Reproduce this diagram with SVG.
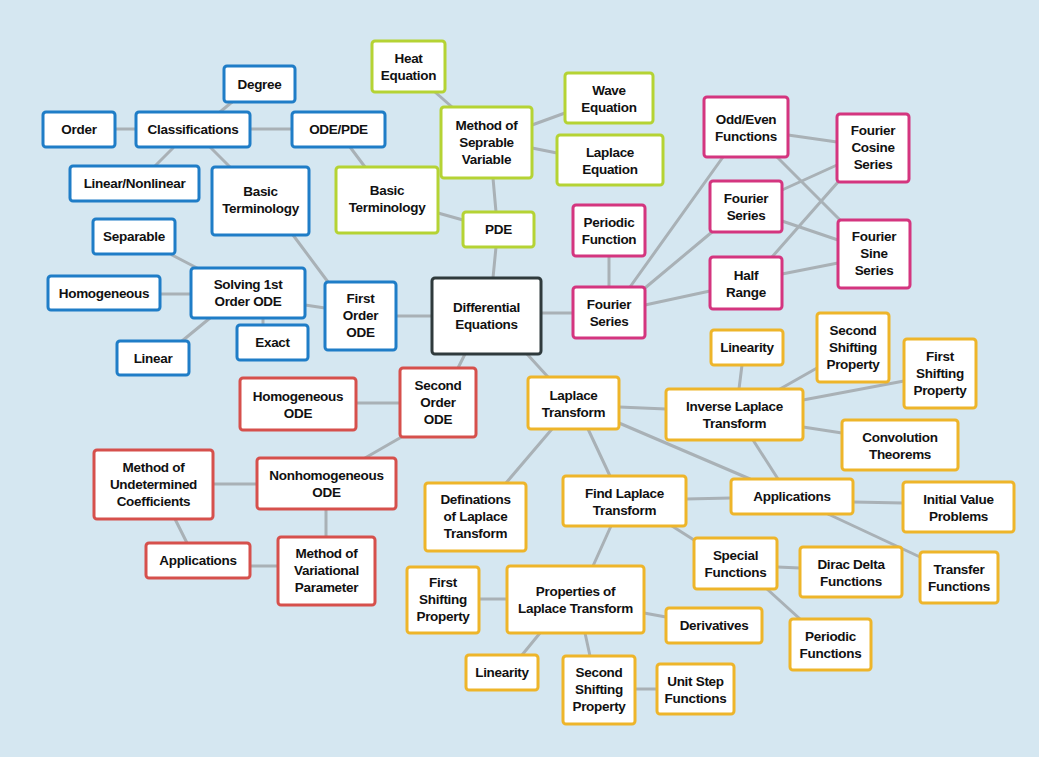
<svg xmlns="http://www.w3.org/2000/svg" width="1039" height="757" viewBox="0 0 1039 757">
<style>
.bg{fill:#d5e7f1}
.n rect{fill:#ffffff;stroke-width:3}
.b rect{stroke:#1f7dc7}
.g rect{stroke:#b5d334}
.p rect{stroke:#d4357f}
.r rect{stroke:#d6504c}
.o rect{stroke:#eeb52a}
.k rect{stroke:#2f3a3c}
.n text{font-family:"Liberation Sans",Arial,sans-serif;font-weight:bold;font-size:13.5px;fill:#111111;text-anchor:middle;letter-spacing:-0.3px}
#edges line{stroke:#a9b1b6;stroke-width:3;stroke-linecap:round}
</style>
<rect class="bg" x="0" y="0" width="1039" height="757"/>
<g id="edges">
<line x1="115" y1="129" x2="136" y2="129"/>
<line x1="220" y1="112" x2="232" y2="102"/>
<line x1="250" y1="129" x2="292" y2="129"/>
<line x1="173" y1="148" x2="155" y2="166"/>
<line x1="210" y1="147" x2="230" y2="167"/>
<line x1="293" y1="235" x2="328" y2="282"/>
<line x1="350" y1="147" x2="365" y2="167"/>
<line x1="438" y1="213" x2="463" y2="220"/>
<line x1="435" y1="92" x2="452" y2="107"/>
<line x1="532" y1="125" x2="565" y2="113"/>
<line x1="532" y1="148" x2="557" y2="153"/>
<line x1="493" y1="178" x2="496" y2="212"/>
<line x1="496" y1="247" x2="493" y2="278"/>
<line x1="172" y1="255" x2="197" y2="268"/>
<line x1="160" y1="294" x2="191" y2="294"/>
<line x1="182" y1="341" x2="210" y2="318"/>
<line x1="263" y1="318" x2="263" y2="325"/>
<line x1="305" y1="305" x2="325" y2="308"/>
<line x1="396" y1="316" x2="432" y2="316"/>
<line x1="541" y1="313" x2="573" y2="313"/>
<line x1="609" y1="256" x2="609" y2="287"/>
<line x1="630" y1="287" x2="723" y2="157"/>
<line x1="645" y1="288" x2="712" y2="232"/>
<line x1="645" y1="305" x2="710" y2="291"/>
<line x1="788" y1="135" x2="837" y2="142"/>
<line x1="777" y1="157" x2="840" y2="220"/>
<line x1="782" y1="190" x2="837" y2="165"/>
<line x1="782" y1="221" x2="838" y2="240"/>
<line x1="772" y1="257" x2="838" y2="182"/>
<line x1="782" y1="274" x2="838" y2="263"/>
<line x1="465" y1="354" x2="458" y2="368"/>
<line x1="527" y1="354" x2="548" y2="377"/>
<line x1="356" y1="403" x2="400" y2="403"/>
<line x1="405" y1="435" x2="365" y2="458"/>
<line x1="213" y1="484" x2="257" y2="484"/>
<line x1="326" y1="509" x2="326" y2="537"/>
<line x1="175" y1="519" x2="187" y2="543"/>
<line x1="250" y1="566" x2="278" y2="566"/>
<line x1="619" y1="407" x2="666" y2="409"/>
<line x1="619" y1="423" x2="750" y2="479"/>
<line x1="742" y1="365" x2="739" y2="389"/>
<line x1="780" y1="389" x2="817" y2="368"/>
<line x1="803" y1="400" x2="904" y2="381"/>
<line x1="803" y1="427" x2="842" y2="433"/>
<line x1="753" y1="440" x2="778" y2="479"/>
<line x1="552" y1="429" x2="506" y2="483"/>
<line x1="588" y1="429" x2="610" y2="476"/>
<line x1="686" y1="499" x2="731" y2="498"/>
<line x1="853" y1="502" x2="903" y2="503"/>
<line x1="828" y1="514" x2="920" y2="557"/>
<line x1="672" y1="526" x2="694" y2="540"/>
<line x1="611" y1="526" x2="593" y2="566"/>
<line x1="777" y1="567" x2="800" y2="568"/>
<line x1="767" y1="589" x2="800" y2="619"/>
<line x1="479" y1="599" x2="507" y2="599"/>
<line x1="644" y1="613" x2="666" y2="617"/>
<line x1="540" y1="633" x2="522" y2="655"/>
<line x1="585" y1="633" x2="590" y2="656"/>
<line x1="635" y1="689" x2="657" y2="689"/>
</g>

<g id="degree" class="n b"><rect x="224" y="66" width="71" height="36" rx="3"/><text x="259.5" y="88.5">Degree</text></g>
<g id="order" class="n b"><rect x="43" y="112" width="72" height="35" rx="3"/><text x="79" y="134">Order</text></g>
<g id="classifications" class="n b"><rect x="136" y="112" width="114" height="35" rx="3"/><text x="193" y="134">Classifications</text></g>
<g id="odepde" class="n b"><rect x="292" y="112" width="93" height="35" rx="3"/><text x="338.5" y="134">ODE/PDE</text></g>
<g id="linnon" class="n b"><rect x="70" y="166" width="129" height="35" rx="3"/><text x="134.5" y="188">Linear/Nonlinear</text></g>
<g id="basicB" class="n b"><rect x="212" y="167" width="97" height="68" rx="3"/><text x="260.5" y="196">Basic</text><text x="260.5" y="213">Terminology</text></g>
<g id="separable" class="n b"><rect x="93" y="219" width="82" height="35" rx="3"/><text x="134" y="241">Separable</text></g>
<g id="solving" class="n b"><rect x="191" y="268" width="114" height="50" rx="3"/><text x="248" y="289">Solving 1st</text><text x="248" y="306">Order ODE</text></g>
<g id="homogeneous" class="n b"><rect x="48" y="276" width="112" height="34" rx="3"/><text x="104" y="297.5">Homogeneous</text></g>
<g id="linear" class="n b"><rect x="117" y="341" width="72" height="34" rx="3"/><text x="153" y="362.5">Linear</text></g>
<g id="exact" class="n b"><rect x="237" y="325" width="71" height="35" rx="3"/><text x="272.5" y="347">Exact</text></g>
<g id="firstOrder" class="n b"><rect x="325" y="282" width="71" height="68" rx="3"/><text x="360.5" y="303">First</text><text x="360.5" y="320">Order</text><text x="360.5" y="337">ODE</text></g>
<g id="diffeq" class="n k"><rect x="432" y="278" width="109" height="76" rx="3"/><text x="486.5" y="312">Differential</text><text x="486.5" y="329">Equations</text></g>

<g id="heat" class="n g"><rect x="372" y="41" width="73" height="51" rx="3"/><text x="408.5" y="63">Heat</text><text x="408.5" y="80">Equation</text></g>
<g id="method" class="n g"><rect x="441" y="107" width="91" height="71" rx="3"/><text x="486.5" y="130">Method of</text><text x="486.5" y="147">Seprable</text><text x="486.5" y="164">Variable</text></g>
<g id="wave" class="n g"><rect x="565" y="73" width="88" height="50" rx="3"/><text x="609" y="94.5">Wave</text><text x="609" y="111.5">Equation</text></g>
<g id="laplaceEq" class="n g"><rect x="557" y="135" width="106" height="50" rx="3"/><text x="610" y="156.5">Laplace</text><text x="610" y="173.5">Equation</text></g>
<g id="basicG" class="n g"><rect x="336" y="167" width="102" height="66" rx="3"/><text x="387" y="195">Basic</text><text x="387" y="212">Terminology</text></g>
<g id="pde" class="n g"><rect x="463" y="212" width="71" height="35" rx="3"/><text x="498.5" y="234">PDE</text></g>

<g id="periodicFunction" class="n p"><rect x="573" y="205" width="72" height="51" rx="3"/><text x="609" y="227">Periodic</text><text x="609" y="244">Function</text></g>
<g id="fourierL" class="n p"><rect x="573" y="287" width="72" height="51" rx="3"/><text x="609" y="309">Fourier</text><text x="609" y="326">Series</text></g>
<g id="oddeven" class="n p"><rect x="704" y="97" width="84" height="60" rx="3"/><text x="746" y="124">Odd/Even</text><text x="746" y="141">Functions</text></g>
<g id="cosine" class="n p"><rect x="837" y="114" width="72" height="68" rx="3"/><text x="873" y="135">Fourier</text><text x="873" y="152">Cosine</text><text x="873" y="169">Series</text></g>
<g id="fourierR" class="n p"><rect x="710" y="181" width="72" height="51" rx="3"/><text x="746" y="203">Fourier</text><text x="746" y="220">Series</text></g>
<g id="sine" class="n p"><rect x="838" y="220" width="72" height="68" rx="3"/><text x="874" y="241">Fourier</text><text x="874" y="258">Sine</text><text x="874" y="275">Series</text></g>
<g id="halfRange" class="n p"><rect x="710" y="257" width="72" height="52" rx="3"/><text x="746" y="279.5">Half</text><text x="746" y="296.5">Range</text></g>

<g id="homODE" class="n r"><rect x="240" y="378" width="116" height="52" rx="3"/><text x="298" y="400.5">Homogeneous</text><text x="298" y="417.5">ODE</text></g>
<g id="secondOrder" class="n r"><rect x="400" y="368" width="76" height="69" rx="3"/><text x="438" y="389.5">Second</text><text x="438" y="406.5">Order</text><text x="438" y="423.5">ODE</text></g>
<g id="undetermined" class="n r"><rect x="94" y="450" width="119" height="69" rx="3"/><text x="153.5" y="471.5">Method of</text><text x="153.5" y="488.5">Undetermined</text><text x="153.5" y="505.5">Coefficients</text></g>
<g id="nonhom" class="n r"><rect x="257" y="458" width="139" height="51" rx="3"/><text x="326.5" y="480">Nonhomogeneous</text><text x="326.5" y="497">ODE</text></g>
<g id="appsR" class="n r"><rect x="146" y="543" width="104" height="35" rx="3"/><text x="198" y="565">Applications</text></g>
<g id="variational" class="n r"><rect x="278" y="537" width="97" height="68" rx="3"/><text x="326.5" y="558">Method of</text><text x="326.5" y="575">Variational</text><text x="326.5" y="592">Parameter</text></g>

<g id="laplaceT" class="n o"><rect x="528" y="377" width="91" height="52" rx="3"/><text x="573.5" y="399.5">Laplace</text><text x="573.5" y="416.5">Transform</text></g>
<g id="linU" class="n o"><rect x="711" y="330" width="72" height="35" rx="3"/><text x="747" y="352">Linearity</text></g>
<g id="secShU" class="n o"><rect x="817" y="313" width="72" height="69" rx="3"/><text x="853" y="334.5">Second</text><text x="853" y="351.5">Shifting</text><text x="853" y="368.5">Property</text></g>
<g id="firstShU" class="n o"><rect x="904" y="339" width="72" height="69" rx="3"/><text x="940" y="360.5">First</text><text x="940" y="377.5">Shifting</text><text x="940" y="394.5">Property</text></g>
<g id="inverse" class="n o"><rect x="666" y="389" width="137" height="51" rx="3"/><text x="734.5" y="411">Inverse Laplace</text><text x="734.5" y="428">Transform</text></g>
<g id="conv" class="n o"><rect x="842" y="420" width="116" height="50" rx="3"/><text x="900" y="441.5">Convolution</text><text x="900" y="458.5">Theorems</text></g>
<g id="appsO" class="n o"><rect x="731" y="479" width="122" height="35" rx="3"/><text x="792" y="501">Applications</text></g>
<g id="ivp" class="n o"><rect x="903" y="482" width="111" height="50" rx="3"/><text x="958.5" y="503.5">Initial Value</text><text x="958.5" y="520.5">Problems</text></g>
<g id="findL" class="n o"><rect x="563" y="476" width="123" height="50" rx="3"/><text x="624.5" y="497.5">Find Laplace</text><text x="624.5" y="514.5">Transform</text></g>
<g id="definations" class="n o"><rect x="425" y="483" width="101" height="68" rx="3"/><text x="475.5" y="504">Definations</text><text x="475.5" y="521">of Laplace</text><text x="475.5" y="538">Transform</text></g>
<g id="special" class="n o"><rect x="694" y="538" width="83" height="51" rx="3"/><text x="735.5" y="560">Special</text><text x="735.5" y="577">Functions</text></g>
<g id="dirac" class="n o"><rect x="800" y="547" width="102" height="50" rx="3"/><text x="851" y="568.5">Dirac Delta</text><text x="851" y="585.5">Functions</text></g>
<g id="transfer" class="n o"><rect x="920" y="552" width="78" height="51" rx="3"/><text x="959" y="574">Transfer</text><text x="959" y="591">Functions</text></g>
<g id="periodicFunctions" class="n o"><rect x="790" y="619" width="81" height="51" rx="3"/><text x="830.5" y="641">Periodic</text><text x="830.5" y="658">Functions</text></g>
<g id="firstShL" class="n o"><rect x="407" y="567" width="72" height="66" rx="3"/><text x="443" y="587">First</text><text x="443" y="604">Shifting</text><text x="443" y="621">Property</text></g>
<g id="props" class="n o"><rect x="507" y="566" width="137" height="67" rx="3"/><text x="575.5" y="596">Properties of</text><text x="575.5" y="613">Laplace Transform</text></g>
<g id="deriv" class="n o"><rect x="666" y="608" width="96" height="35" rx="3"/><text x="714" y="630">Derivatives</text></g>
<g id="linL" class="n o"><rect x="466" y="655" width="72" height="35" rx="3"/><text x="502" y="677">Linearity</text></g>
<g id="secShL" class="n o"><rect x="563" y="656" width="72" height="68" rx="3"/><text x="599" y="677">Second</text><text x="599" y="694">Shifting</text><text x="599" y="711">Property</text></g>
<g id="unitStep" class="n o"><rect x="657" y="664" width="77" height="50" rx="3"/><text x="695.5" y="685.5">Unit Step</text><text x="695.5" y="702.5">Functions</text></g>
</svg>
